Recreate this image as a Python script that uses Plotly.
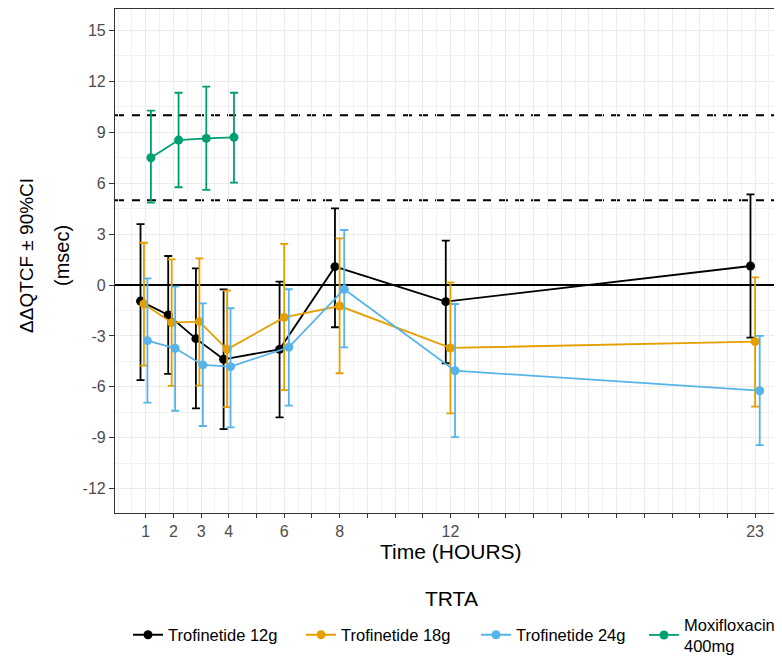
import plotly.graph_objects as go

# ---------------- data ----------------
hours = [1, 2, 3, 4, 6, 8, 12, 23]
moxi_hours = [1, 2, 3, 4]

t12 = [-0.95, -1.77, -3.16, -4.38, -3.79, 1.08, -0.98, 1.12]
t12_lo = [-5.60, -5.24, -7.27, -8.49, -7.80, -2.49, -4.61, -3.10]
t12_hi = [3.59, 1.71, 0.98, -0.26, 0.20, 4.52, 2.61, 5.34]

t18 = [-1.12, -2.22, -2.16, -3.79, -1.91, -1.24, -3.71, -3.34]
t18_lo = [-4.75, -5.95, -5.93, -7.20, -6.19, -5.20, -7.56, -7.17]
t18_hi = [2.49, 1.51, 1.57, -0.33, 2.42, 2.75, 0.16, 0.45]

t24 = [-3.28, -3.73, -4.71, -4.81, -3.67, -0.25, -5.05, -6.23]
t24_lo = [-6.93, -7.41, -8.31, -8.39, -7.11, -3.67, -8.97, -9.43]
t24_hi = [0.39, -0.10, -1.08, -1.37, -0.25, 3.24, -1.12, -3.00]

moxi = [7.50, 8.54, 8.64, 8.70]
moxi_lo = [4.85, 5.76, 5.60, 6.03]
moxi_hi = [10.27, 11.33, 11.69, 11.33]

series_names = ["Trofinetide 12g", "Trofinetide 18g", "Trofinetide 24g",
                "Moxifloxacin<br>400mg"]
series_colors = ["#000000", "#E69F00", "#56B4E9", "#009E73"]

x_tick_vals = list(range(1, 24))
x_tick_labels = ["1", "2", "3", "4", "", "6", "", "8", "", "", "", "12",
                 "", "", "", "", "", "", "", "", "", "", "23"]
y_tick_vals = [-12, -9, -6, -3, 0, 3, 6, 9, 12, 15]
y_tick_labels = ["-12", "-9", "-6", "-3", "0", "3", "6", "9", "12", "15"]
ref_lines = [5, 10]

# --------------- layout helpers ---------------
OFF = 8                      # page body margin of the html file
W, H = 782 - OFF, 657 - OFF  # figure size so it fits the window
L, T = 115 - OFF, 9 - OFF    # plot area left / top (figure px)
BOT = 513 - OFF              # plot area bottom (figure px)
B = H - BOT
PW = W - L
PH = BOT - T
DODGE = 0.5


def px_x(px):
    """reference-window px -> paper x"""
    return (px - OFF - L) / PW


def px_y(py):
    """reference-window px -> paper y"""
    return (BOT - (py - OFF)) / PH


series = [
    (hours, t12, t12_lo, t12_hi),
    (hours, t18, t18_lo, t18_hi),
    (hours, t24, t24_lo, t24_hi),
    (moxi_hours, moxi, moxi_lo, moxi_hi),
]

# groups present at each time point (for dodging)
present = {}
for i, (hx, *_rest) in enumerate(series):
    for h in hx:
        present.setdefault(h, []).append(i)


def dodge(h, i):
    grp = present[h]
    n = len(grp)
    k = grp.index(i)
    return h + DODGE * ((k + 0.5) / n - 0.5)


fig = go.Figure()
for i, (hx, y, lo, hi) in enumerate(series):
    xs = [dodge(h, i) for h in hx]
    lname = "legend" if i == 0 else f"legend{i + 1}"
    fig.add_trace(go.Scatter(
        x=xs, y=y, name=series_names[i], mode="lines+markers",
        line=dict(color=series_colors[i], width=1.8),
        marker=dict(color=series_colors[i], size=9),
        error_y=dict(type="data", symmetric=False,
                     array=[h_ - v for h_, v in zip(hi, y)],
                     arrayminus=[v - l_ for l_, v in zip(lo, y)],
                     color=series_colors[i], thickness=1.8, width=4),
        legend=lname, showlegend=True,
    ))

legend_px = [128, 301, 476, 644]
legend_common = dict(orientation="h", xanchor="left", yanchor="middle",
                     y=px_y(635), font=dict(size=16.5, color="#000000"),
                     bgcolor="rgba(0,0,0,0)", valign="middle")

for r in ref_lines:
    fig.add_shape(type="line", xref="paper", x0=0, x1=1, yref="y", y0=r, y1=r,
                  line=dict(color="#000000", width=2, dash="9px,7px"),
                  layer="between")

grid = "#ebebeb"
fig.update_layout(
    width=W, height=H,
    margin=dict(l=L, r=0, t=T, b=B, autoexpand=False),
    paper_bgcolor="white", plot_bgcolor="white",
    font=dict(family="Liberation Sans, Arial, sans-serif", color="#000000"),
    showlegend=True,
    legend=dict(x=px_x(legend_px[0]), **legend_common),
    legend2=dict(x=px_x(legend_px[1]), **legend_common),
    legend3=dict(x=px_x(legend_px[2]), **legend_common),
    legend4=dict(x=px_x(legend_px[3]), **legend_common),
    xaxis=dict(
        range=[1 + (115 - 145.7) / 27.7, 1 + (782 - 145.7) / 27.7],
        tickmode="array", tickvals=x_tick_vals,
        ticktext=x_tick_labels, ticks="outside", ticklen=4, tickwidth=1.2,
        tickcolor="#333333", tickfont=dict(size=16, color="#4d4d4d"),
        showgrid=True, gridcolor=grid, gridwidth=1, zeroline=False,
        showline=True, linecolor="#333333", linewidth=1.2, mirror=True,
        minor=dict(tick0=0, dtick=0.5, showgrid=True, gridcolor="#f1f1f1",
                   gridwidth=1, ticks=""),
    ),
    yaxis=dict(
        range=[(285 - 513) / 16.97, (285 - 9) / 16.97],
        tickmode="array", tickvals=y_tick_vals, ticktext=y_tick_labels,
        ticks="outside", ticklen=5, tickwidth=1.2, tickcolor="#333333",
        tickfont=dict(size=16, color="#4d4d4d"),
        showgrid=True, gridcolor=grid, gridwidth=1,
        zeroline=True, zerolinecolor="#000000", zerolinewidth=1.8,
        showline=True, linecolor="#333333", linewidth=1.2, mirror=False,
        minor=dict(tick0=0, dtick=1.5, showgrid=True, gridcolor="#f1f1f1",
                   gridwidth=1, ticks=""),
    ),
    annotations=[
        dict(text="ΔΔQTCF ± 90%CI", xref="paper", yref="paper",
             x=px_x(26), y=px_y(256), textangle=-90, showarrow=False,
             xanchor="center", yanchor="middle", font=dict(size=19)),
        dict(text="(msec)", xref="paper", yref="paper",
             x=px_x(62), y=px_y(256), textangle=-90, showarrow=False,
             xanchor="center", yanchor="middle", font=dict(size=20)),
        dict(text="Time (HOURS)", xref="paper", yref="paper",
             x=px_x(451), y=px_y(551), showarrow=False,
             xanchor="center", yanchor="middle", font=dict(size=21)),
        dict(text="TRTA", xref="paper", yref="paper",
             x=px_x(451), y=px_y(598), showarrow=False,
             xanchor="center", yanchor="middle", font=dict(size=21)),
    ],
)

fig.write_html("out.html")
